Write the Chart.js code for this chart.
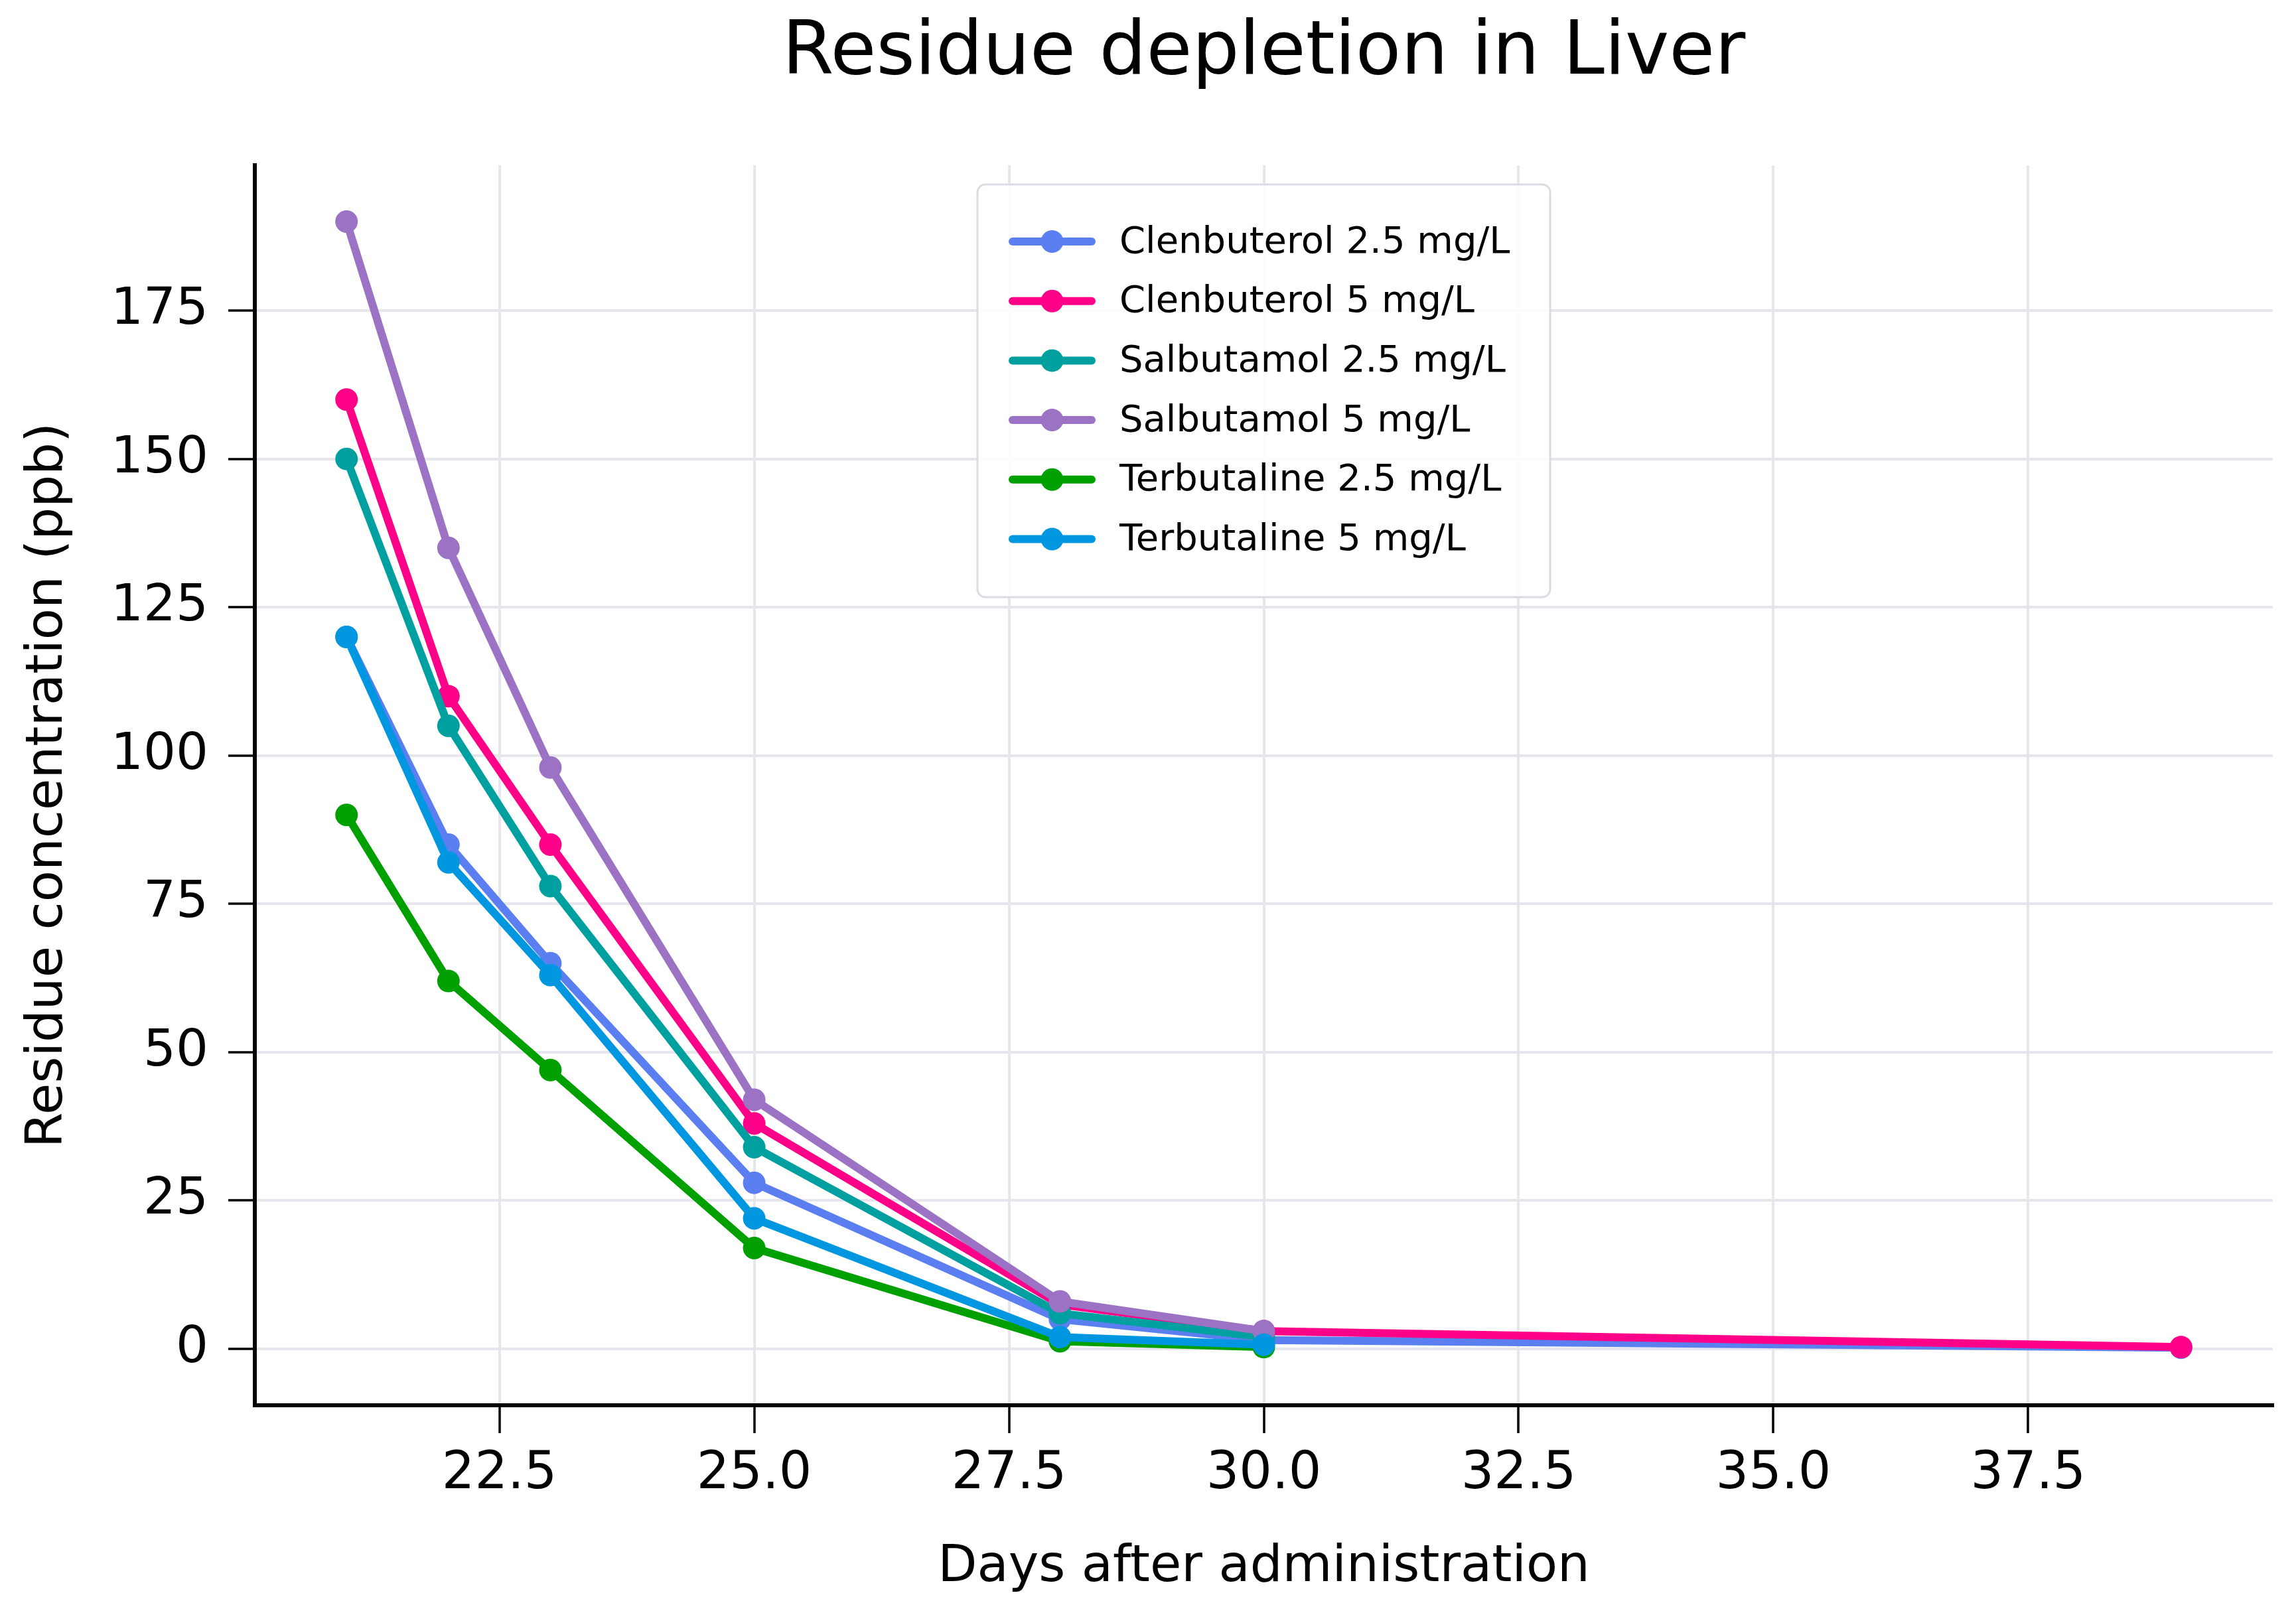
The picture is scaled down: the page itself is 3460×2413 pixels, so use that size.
<!DOCTYPE html>
<html>
<head>
<meta charset="utf-8">
<script src="https://cdn.jsdelivr.net/npm/chart.js@4/dist/chart.umd.min.js"></script>
<style>
html, body { margin: 0; padding: 0; background: #ffffff; }
#wrap { width: 3460px; height: 2413px; }
</style>
</head>
<body>
<div id="wrap"><canvas id="c" width="3460" height="2413"></canvas></div>
<script>
// ---------- data ----------
const days = [21, 22, 23, 25, 28, 30, 39];
const clenbuterol25 = [120, 85, 65, 28, 5, 1.5, 0.2];
const clenbuterol5 = [160, 110, 85, 38, 7.5, 3, 0.3];
const salbutamol25 = [150, 105, 78, 34, 6, 2];
const salbutamol5 = [190, 135, 98, 42, 8, 3];
const terbutaline25 = [90, 62, 47, 17, 1.3, 0.3];
const terbutaline5 = [120, 82, 63, 22, 2, 0.7];
const seriesLabels = ['Clenbuterol 2.5 mg/L', 'Clenbuterol 5 mg/L', 'Salbutamol 2.5 mg/L',
                      'Salbutamol 5 mg/L', 'Terbutaline 2.5 mg/L', 'Terbutaline 5 mg/L'];
const seriesValues = [clenbuterol25, clenbuterol5, salbutamol25, salbutamol5, terbutaline25, terbutaline5];
const seriesColors = ['#5b7ff0', '#ff0088', '#00a0a0', '#9b72c4', '#00a000', '#0097e0'];
const xTicks = [22.5, 25.0, 27.5, 30.0, 32.5, 35.0, 37.5];
const yTicks = [0, 25, 50, 75, 100, 125, 150, 175];
const chartTitle = 'Residue depletion in Liver';
const xTitle = 'Days after administration';
const yTitle = 'Residue concentration (ppb)';

const FONT = "'DejaVu Sans', 'Liberation Sans', sans-serif";
const GRID = '#e6e6ec';
const LINE_W = 12;
const MARK_R = 17;

const datasets = seriesValues.map((vals, i) => ({
  label: seriesLabels[i],
  data: vals.map((v, k) => ({ x: days[k], y: v })),
  borderColor: seriesColors[i],
  backgroundColor: seriesColors[i],
  borderWidth: LINE_W,
  borderCapStyle: 'round',
  borderJoinStyle: 'round',
  pointRadius: MARK_R,
  pointBorderWidth: 0,
  pointBackgroundColor: seriesColors[i],
  pointHoverRadius: MARK_R,
  tension: 0,
  fill: false,
  order: seriesValues.length - i
}));

const legendPlugin = {
  id: 'mplLegend',
  afterDatasetsDraw(chart) {
    const ctx = chart.ctx;
    const ca = chart.chartArea;
    const boxW = 863, boxH = 622;
    const bx = (ca.left + ca.right) / 2 - boxW / 2;
    const by = ca.top + 29;
    ctx.save();
    ctx.beginPath();
    ctx.roundRect(bx, by, boxW, boxH, 12);
    ctx.fillStyle = 'rgba(255,255,255,0.85)';
    ctx.fill();
    ctx.lineWidth = 3;
    ctx.strokeStyle = '#dcdce4';
    ctx.stroke();
    chart.data.datasets.forEach((ds, i) => {
      const y = by + 86 + i * 89.7;
      ctx.beginPath();
      ctx.moveTo(bx + 53, y);
      ctx.lineTo(bx + 172, y);
      ctx.lineWidth = LINE_W;
      ctx.lineCap = 'round';
      ctx.strokeStyle = ds.borderColor;
      ctx.stroke();
      ctx.beginPath();
      ctx.arc(bx + 112.5, y, MARK_R, 0, Math.PI * 2);
      ctx.fillStyle = ds.borderColor;
      ctx.fill();
      ctx.fillStyle = '#000000';
      ctx.font = '56px ' + FONT;
      ctx.textAlign = 'left';
      ctx.textBaseline = 'middle';
      ctx.fillText(ds.label, bx + 214, y + 2);
    });
    ctx.restore();
  }
};

new Chart(document.getElementById('c'), {
  type: 'line',
  data: { datasets },
  plugins: [legendPlugin],
  options: {
    responsive: false,
    animation: false,
    devicePixelRatio: 1,
    layout: { padding: { left: 0, right: 35, top: 0, bottom: 0 } },
    plugins: {
      legend: { display: false },
      tooltip: { enabled: false },
      title: {
        display: true,
        text: chartTitle,
        fullSize: false,
        color: '#000000',
        font: { family: FONT, size: 112, weight: 'normal' },
        padding: { top: 15, bottom: 99.6 }
      }
    },
    scales: {
      x: {
        type: 'linear',
        min: 20.1,
        max: 39.9,
        afterBuildTicks: (s) => { s.ticks = xTicks.map(v => ({ value: v })); },
        afterFit: (s) => { s.height = 295; },
        ticks: {
          color: '#000000',
          font: { family: FONT, size: 78 },
          padding: 16,
          maxRotation: 0,
          autoSkip: false,
          callback: (v) => Number(v).toFixed(1)
        },
        grid: { color: GRID, lineWidth: 4, drawTicks: true, tickLength: 42, tickColor: '#000000', tickWidth: 3.5 },
        border: { display: true, color: '#000000', width: 6 },
        title: { display: true, text: xTitle, color: '#000000', font: { family: FONT, size: 77 }, padding: { top: 0, bottom: 4 } }
      },
      y: {
        type: 'linear',
        min: -9.5,
        max: 199.5,
        afterBuildTicks: (s) => { s.ticks = yTicks.map(v => ({ value: v })); },
        afterFit: (s) => { s.width = 384; },
        ticks: {
          color: '#000000',
          font: { family: FONT, size: 77 },
          padding: 30,
          autoSkip: false,
          callback: (v) => String(v)
        },
        grid: { color: GRID, lineWidth: 4, drawTicks: true, tickLength: 40, tickColor: '#000000', tickWidth: 3.5 },
        border: { display: true, color: '#000000', width: 6 },
        title: { display: true, text: yTitle, color: '#000000', font: { family: FONT, size: 77 }, padding: { top: 27, bottom: 0 } }
      }
    }
  }
});
</script>
</body>
</html>
